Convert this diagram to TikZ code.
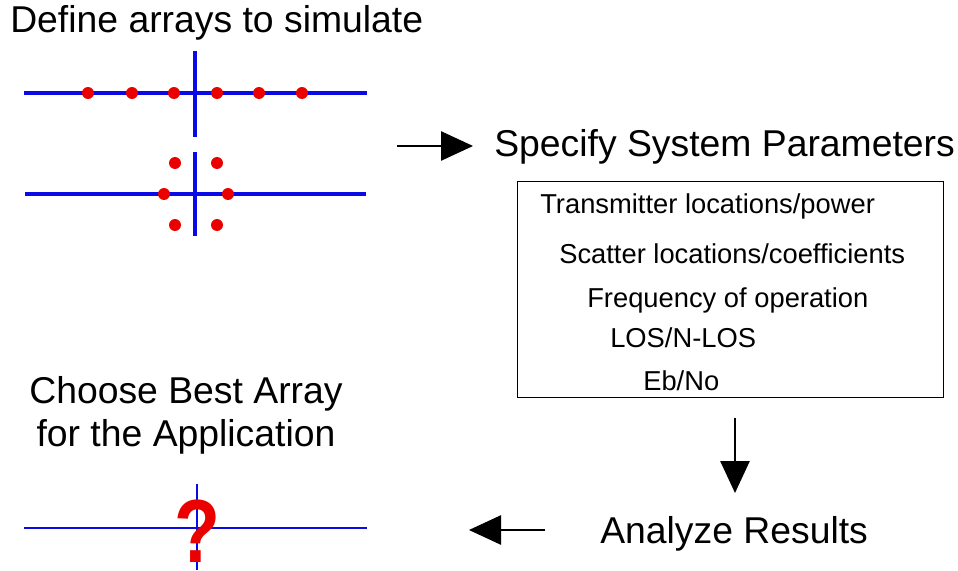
\documentclass[tikz,border=0pt]{standalone}
\usepackage{fontspec}
\setmainfont{Liberation Sans}
\usetikzlibrary{arrows.meta}
\definecolor{axblue}{RGB}{10,10,230}
\definecolor{dotred}{RGB}{235,0,0}
\begin{document}
\begin{tikzpicture}[x=0.75pt,y=-0.75pt,
  bigtxt/.style={font=\fontsize{28}{30}\selectfont, inner sep=0pt},
  smtxt/.style={font=\fontsize{20.5}{22}\selectfont, inner sep=0pt, anchor=west},
  axis/.style={draw=axblue, line width=2.4pt},
  thinaxis/.style={draw=axblue, line width=1.2pt},
  elem/.style={circle, fill=dotred, inner sep=0pt, minimum size=9pt},
  flow/.style={line width=1.1pt, -{Triangle[length=24pt,width=22pt]}},
  parbox/.style={draw, line width=0.8pt, minimum width=319.5pt, minimum height=162pt, anchor=north west, inner sep=0pt}]
\useasboundingbox (0,0) rectangle (958,571);

% Title
\node[bigtxt, anchor=west] (t1) at (10,23) {Define arrays to simulate};

% Linear array
\coordinate (l1a) at (24,93); \coordinate (l1b) at (367,93);
\coordinate (v1a) at (195,51); \coordinate (v1b) at (195,137);
\draw[axis] (l1a) -- (l1b);
\draw[axis] (v1a) -- (v1b);
\foreach \x [count=\i] in {88,132,174,217,259,302}
  \node[elem] (a\i) at (\x,93) {};

% Circular array
\coordinate (l2a) at (25,194); \coordinate (l2b) at (366,194);
\coordinate (v2a) at (195,152); \coordinate (v2b) at (195,236);
\draw[axis] (l2a) -- (l2b);
\draw[axis] (v2a) -- (v2b);
\node[elem] (c1) at (175,163) {};
\node[elem] (c2) at (217,163) {};
\node[elem] (c3) at (164,194) {};
\node[elem] (c4) at (228,194) {};
\node[elem] (c5) at (175,225) {};
\node[elem] (c6) at (217,225) {};

% Specify
\coordinate (s0) at (397,146);
\node[bigtxt, anchor=west] (spec) at (494,147) {Specify System Parameters};
\coordinate (s1) at (473,146);
\draw[flow] (s0) -- (s1);

% Parameter box
\node[parbox] (box) at (517,181) {};
\node[smtxt] (p1) at (540,206) {Transmitter locations/power};
\node[smtxt] (p2) at (559,254) {Scatter locations/coefficients};
\node[smtxt] (p3) at (587,300) {Frequency of operation};
\node[smtxt] (p4) at (610,338) {LOS/N-LOS};
\node[smtxt] (p5) at (643,381) {Eb/No};

% Down arrow
\coordinate (d0) at (735,418);
\coordinate (d1) at (735,493);
\draw[flow] (d0) -- (d1);

% Analyze
\node[bigtxt, anchor=west] (ana) at (600,534) {Analyze Results};
\coordinate (r0) at (545,530);
\coordinate (r1) at (469,530);
\draw[flow] (r0) -- (r1);

% Choose
\node[inner sep=0pt, align=center, font=\fontsize{28}{32.3}\selectfont] (choose) at (186,415) {Choose Best Array\\for the Application};

% Result array
\coordinate (l3a) at (24,528); \coordinate (l3b) at (367,528);
\coordinate (v3a) at (197,484); \coordinate (v3b) at (197,570);
\draw[thinaxis] (l3a) -- (l3b);
\draw[thinaxis] (v3a) -- (v3b);
\node[inner sep=0pt, text=dotred, font=\fontsize{64}{64}\selectfont\bfseries] (q) at (197,531) {\scalebox{0.88}[1.05]{?}};
\end{tikzpicture}
\end{document}
